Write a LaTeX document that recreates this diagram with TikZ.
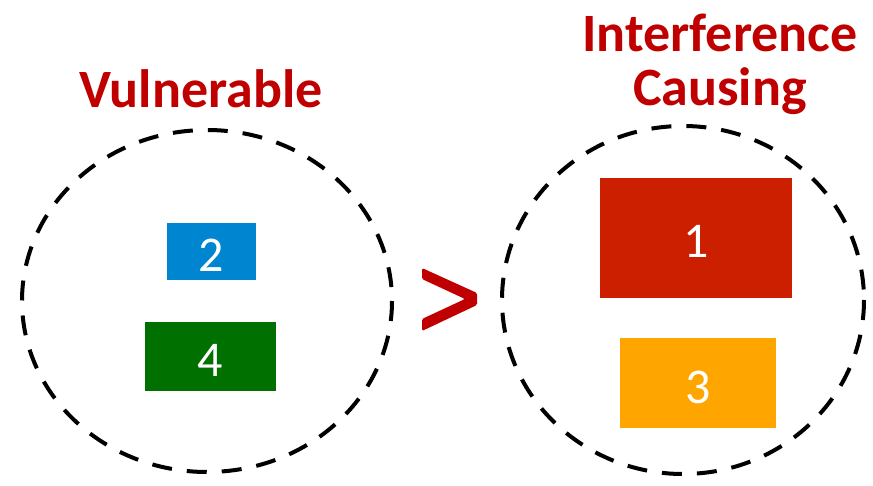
\documentclass[tikz,border=0pt]{standalone}
\usepackage{fontspec}
\setmainfont{Carlito}
\definecolor{titlered}{HTML}{C00000}
\definecolor{boxblue}{HTML}{0086D0}
\definecolor{boxgreen}{HTML}{007000}
\definecolor{boxred}{HTML}{CC1F00}
\definecolor{boxorange}{HTML}{FFA500}
\tikzset{
  grp/.style={draw=black, line width=4pt, dash pattern=on 20pt off 15pt},
  numbox/.style={inner sep=0pt, text=white, font=\fontsize{50}{60}\selectfont, text height=40pt, text depth=0pt},
  ttl/.style={text=titlered, font=\fontsize{54}{58}\selectfont\bfseries, align=center, inner sep=0pt}
}
\begin{document}
\begin{tikzpicture}[x=1pt,y=-1pt]
\useasboundingbox (0,0) rectangle (873,486);
% groups
\draw[grp] (207,301) ellipse [x radius=185, y radius=171];
\draw[grp] (683,300) ellipse [x radius=181, y radius=174];
% boxes
\node[numbox, fill=boxblue, minimum width=89pt, minimum height=57pt] (b2) at (211.5,251.5) {2};
\node[numbox, fill=boxgreen, minimum width=131pt, minimum height=69pt] (b4) at (210.5,356.5) {4};
\node[numbox, fill=boxred, minimum width=192pt, minimum height=120pt] (b1) at (696,238) {1};
\node[numbox, fill=boxorange, minimum width=156pt, minimum height=90pt] (b3) at (698,383) {3};
% titles
\node[ttl, anchor=base] (t1) at (201,108) {Vulnerable};
\node[ttl, anchor=base] (t2) at (720,106) {Interference\\[-4pt]Causing};
% greater-than sign
\fill[titlered, rounded corners=1.5pt] (422,268) -- (477,293) -- (477,305) -- (422,331) -- (422,319) -- (465,299) -- (422,279) -- cycle;
\end{tikzpicture}
\end{document}
